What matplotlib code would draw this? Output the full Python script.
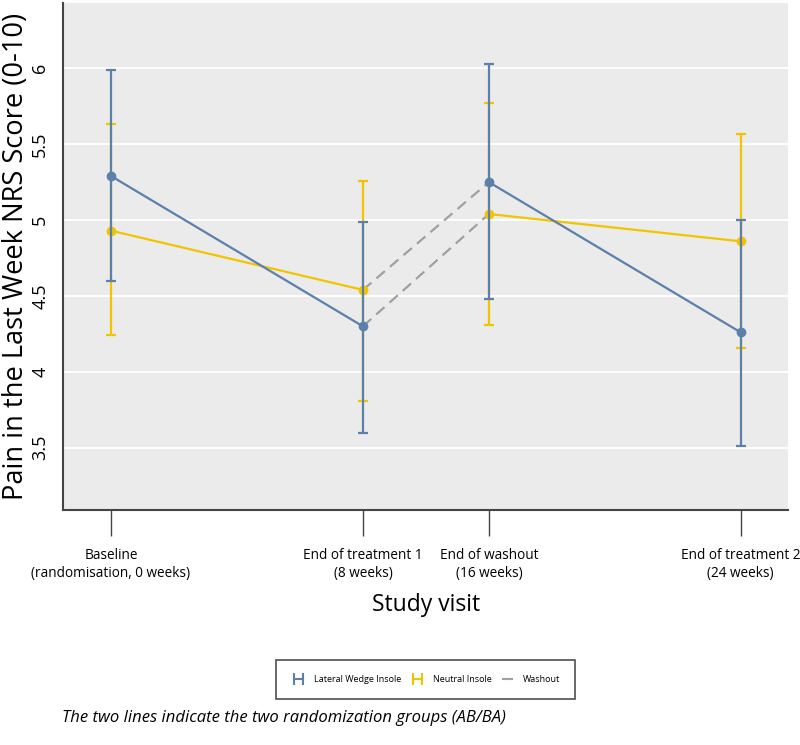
import matplotlib
matplotlib.use("Agg")
import matplotlib.pyplot as plt
from matplotlib.lines import Line2D

BASE = "Open Sans"
plt.rcParams['font.family'] = [BASE, 'DejaVu Sans']

# ---- data ----
visits = ["Baseline\n(randomisation, 0 weeks)", "End of treatment 1\n(8 weeks)",
          "End of washout\n(16 weeks)", "End of treatment 2\n(24 weeks)"]
visit_pos = [0, 2, 3, 5]

lwi_mean = [5.29, 4.30, 5.25, 4.26]
lwi_low = [4.60, 3.60, 4.48, 3.51]
lwi_high = [5.99, 4.99, 6.03, 5.00]

neu_mean = [4.93, 4.54, 5.04, 4.86]
neu_low = [4.24, 3.81, 4.31, 4.16]
neu_high = [5.63, 5.26, 5.77, 5.57]

yticks = [3.5, 4, 4.5, 5, 5.5, 6]
ytick_labels = ["3.5", "4", "4.5", "5", "5.5", "6"]

BLUE = "#5b80aa"
YEL = "#f2c400"
GREY = "#a0a0a0"

fig = plt.figure(figsize=(8, 7.45), dpi=100)
ax = fig.add_axes([0.079, 0.3154, 0.906, 0.6806])
ax.set_facecolor("#ebebeb")

def draw(mean, lo, hi, color, z):
    ax.plot(visit_pos[:2], mean[:2], color=color, lw=1.6, zorder=z)
    ax.plot(visit_pos[2:], mean[2:], color=color, lw=1.6, zorder=z)
    yerr = [[m - l for m, l in zip(mean, lo)], [h - m for m, h in zip(mean, hi)]]
    ax.errorbar(visit_pos, mean, yerr=yerr, fmt='o', color=color, ms=6,
                elinewidth=1.6, capsize=3.5, capthick=1.6, zorder=z)

draw(neu_mean, neu_low, neu_high, YEL, 3)
draw(lwi_mean, lwi_low, lwi_high, BLUE, 4)

# washout crossover dashed lines
ax.plot([visit_pos[1], visit_pos[2]], [neu_mean[1], lwi_mean[2]], color=GREY, lw=1.6,
        ls=(0, (5, 3)), zorder=2)
ax.plot([visit_pos[1], visit_pos[2]], [lwi_mean[1], neu_mean[2]], color=GREY, lw=1.6,
        ls=(0, (5, 3)), zorder=2)

ax.set_xlim(-0.38, 5.375)
ax.set_ylim(3.09, 6.43)
ax.set_yticks(yticks)
ax.set_yticklabels(ytick_labels, rotation=90, va='center', fontsize=13)
ax.tick_params(axis='y', length=0, pad=10)
ax.set_xticks(visit_pos)
ax.set_xticklabels(visits, fontsize=9.8, linespacing=1.3)
ax.tick_params(axis='x', length=19, width=1, color="#444444", pad=8)
ax.grid(axis='y', color='white', lw=1.3)
ax.set_axisbelow(True)
for s in ['top', 'right']:
    ax.spines[s].set_visible(False)
for s in ['left', 'bottom']:
    ax.spines[s].set_color("#444444")
    ax.spines[s].set_linewidth(1.5)

ax.set_ylabel("Pain in the Last Week NRS Score (0-10)", fontsize=19.6, labelpad=1)
ax.set_xlabel("Study visit", fontsize=16.5, labelpad=9)

handles = [
    Line2D([0], [0], color=BLUE, lw=1.5, marker='|', ms=9, mew=1.5),
    Line2D([0], [0], color=YEL, lw=1.5, marker='|', ms=9, mew=1.5),
    Line2D([0], [0], color=GREY, lw=1.5, ls='-'),
]
leg = fig.legend(handles, ["Lateral Wedge Insole", "Neutral Insole", "Washout"],
                 loc='center', bbox_to_anchor=(0.532, 0.088), ncol=3, numpoints=2,
                 frameon=True, fancybox=False, edgecolor='#222222',
                 handlelength=1.6, columnspacing=1.0, borderpad=1.7, handletextpad=0.9,
                 prop={'size': 6.5})
leg.get_frame().set_linewidth(1.2)

fig.text(0.078, 0.036, "The two lines indicate the two randomization groups (AB/BA)",
         fontsize=12, style='italic', va='center', ha='left')

fig.savefig("out.png", dpi=100)
